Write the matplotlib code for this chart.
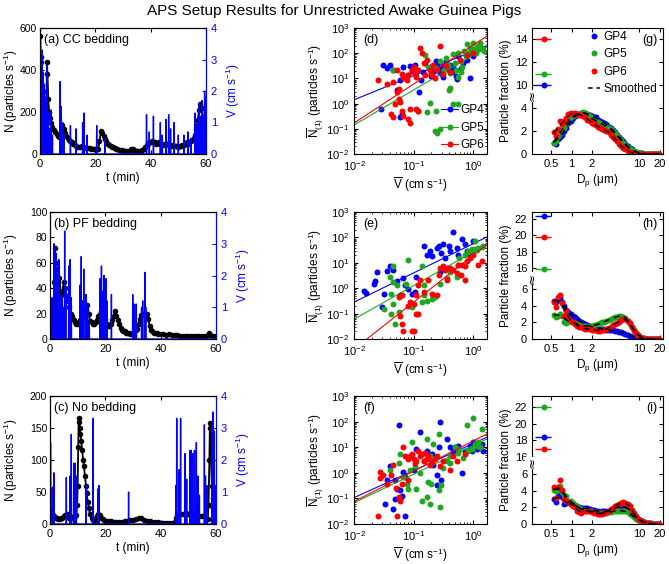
import numpy as np
import matplotlib
matplotlib.use('Agg')
import matplotlib.pyplot as plt
from matplotlib.lines import Line2D
from matplotlib.transforms import blended_transform_factory

plt.rcParams['font.family'] = ['Liberation Sans', 'DejaVu Sans']
plt.rcParams['mathtext.fontset'] = 'custom'
plt.rcParams['mathtext.rm'] = 'Liberation Sans'
plt.rcParams['mathtext.it'] = 'Liberation Sans:italic'
plt.rcParams['mathtext.default'] = 'regular'
plt.rcParams['xtick.direction'] = 'in'
plt.rcParams['ytick.direction'] = 'in'
plt.rcParams['font.size'] = 8.5
plt.rcParams['xtick.labelsize'] = 8
plt.rcParams['ytick.labelsize'] = 8
plt.rcParams['axes.labelsize'] = 8.5

BLUE = '#0000ff'
GREEN = '#1fa81f'
RED = '#ff0000'
COLORS = [BLUE, GREEN, RED]
NAMES = ['GP4', 'GP5', 'GP6']

# ---------------- time series (t in min, N in particles/s) ----------------
a_n = [(0.0,0),(0.05,300),(0.1,560),(0.2,460),(0.3,440),(0.5,380),(0.7,330),(1.0,300),(1.2,260),(1.5,250),
       (1.8,230),(2.0,200),(2.3,180),(2.5,440),(2.7,380),(3.0,260),(3.3,200),(3.6,170),(4.0,150),(4.5,130),
       (5.0,115),(5.5,105),(6.0,95),(6.5,85),(7.0,80),(7.5,100),(8.0,140),(8.5,120),(9.0,100),(9.5,85),
       (10.0,75),(10.5,65),(11,60),(11.5,55),(12,50),(12.5,45),(13,40),(13.5,35),(14,32),(14.5,35),
       (15,38),(15.5,35),(16,32),(16.5,30),(17,30),(17.5,28),(18,28),(18.5,26),(19,25),(19.5,24),
       (20,22),(20.5,22),(21,22),(21.5,60),(22,110),(22.5,100),(23,85),(23.5,70),(24,60),(24.5,50),
       (25,45),(25.5,40),(26,35),(26.5,32),(27,28),(27.5,25),(28,22),(28.5,20),(29,18),(29.5,17),
       (30,16),(30.5,15),(31,15),(31.5,14),(32,14),(32.5,16),(33,22),(33.5,25),(34,20),(34.5,16),
       (35,15),(35.5,14),(36,14),(36.5,15),(37,18),(37.5,25),(38,35),(38.5,45),(39,50),(39.5,55),
       (40,58),(40.5,60),(41,58),(41.5,55),(42,50),(42.5,52),(43,55),(43.5,50),(44,48),(44.5,45),
       (45,48),(45.5,50),(46,48),(46.5,45),(47,42),(47.5,40),(48,42),(48.5,40),(49,38),(49.5,36),
       (50,35),(50.5,38),(51,40),(51.5,42),(52,45),(52.5,50),(53,55),(53.5,50),(54,55),(54.5,60),
       (55,65),(55.5,75),(56,90),(56.5,120),(57,160),(57.5,210),(58,240),(58.5,220),(59,170),(59.3,120),
       (59.6,80),(60,100)]
a_v = [(0.2,2.0),(0.5,1.2),(0.8,3.3),(1.1,2.6),(1.4,2.2),(1.7,1.0),(2.0,1.5),(2.3,2.0),(2.6,2.8),(3.0,1.3),
       (3.4,0.8),(4.0,1.4),(4.5,0.6),(7.3,2.3),(7.7,1.5),(8.2,1.0),(8.6,0.6),(11.0,0.9),(13.0,0.8),(15.4,1.0),
       (15.9,1.3),(17.0,0.6),(20.5,0.9),(23.5,0.5),(38.5,1.25),(39.5,0.7),(41.0,1.2),(43.5,1.0),(44.2,0.6),
       (45.5,1.1),(46.5,1.25),(47.2,0.8),(48.5,1.0),(50.0,0.6),(52.0,0.6),(53.5,0.7),(54.5,0.5),(56.0,1.3),
       (56.6,0.9),(57.0,1.0),(57.5,1.6),(58.0,1.2),(58.5,1.7),(59.0,1.2),(59.5,2.0),(59.9,1.8)]

b_n = [(0.0,5),(0.2,22),(0.4,15),(0.6,25),(0.8,30),(1.0,28),(1.3,30),(1.6,45),(1.8,72),(2.0,55),
       (2.2,60),(2.5,50),(2.8,45),(3.0,42),(3.3,48),(3.6,38),(4.0,35),(4.5,38),(5.0,45),(5.3,40),
       (5.6,35),(6.0,32),(6.5,30),(7.0,25),(7.5,20),(8.0,18),(8.5,15),(9.0,13),(9.5,12),(10,12),
       (10.5,13),(11,15),(11.5,18),(12,20),(12.5,22),(13,24),(13.5,27),(14,20),(14.5,14),(15,13),
       (15.5,12),(16,12),(16.5,13),(17,15),(17.5,18),(18,20),(18.5,22),(19,22),(19.5,20),(20,16),
       (20.5,12),(21,10),(21.5,10),(22,12),(22.5,15),(23,18),(23.5,22),(24,18),(24.5,15),(25,12),
       (25.5,9),(26,7),(26.5,6),(27,6),(27.5,5),(28,5),(28.5,5),(29,4),(29.5,4),(30,5),
       (30.5,6),(31,7),(31.5,8),(32,12),(32.5,16),(33,19),(33.5,20),(34,20),(34.5,19),(35,20),
       (35.5,16),(36,10),(36.5,7),(37,6),(37.5,5),(38,5),(38.5,4.5),(39,4),(40,4),(41,4),
       (42,3.5),(43,4),(44,3.5),(45,3),(46,3),(47,2.5),(48,2.5),(49,2),(50,2.5),(51,2),
       (52,2),(53,2),(54,2),(55,2),(56,2),(57,3),(57.5,5),(58,3),(59,2),(60,2)]
b_v = [(0.3,1.2),(0.7,1.3),(1.0,1.0),(1.4,3.0),(1.8,2.8),(2.3,2.7),(2.6,1.4),(3.0,1.9),(3.2,2.5),(3.6,1.4),
       (4.3,1.3),(4.8,1.0),(5.3,3.4),(5.7,1.6),(6.8,2.3),(7.3,2.5),(7.7,1.3),(10.9,1.7),(11.3,2.6),(11.8,1.2),
       (12.2,2.2),(13.0,1.4),(13.6,1.1),(14.2,0.5),(18.1,1.9),(18.6,2.3),(19.2,1.5),(19.5,2.0),(20.2,1.9),
       (20.6,1.2),(22.2,1.4),(29.9,1.4),(30.5,1.1),(31.2,1.1),(33.1,1.0),(33.5,1.2),(34.3,2.1),(34.6,1.0)]

c_n = [(0.0,10),(0.2,22),(0.4,18),(0.6,15),(1.0,14),(1.5,12),(2,10),(2.5,9),(3,8),(3.5,8),
       (4,9),(4.5,10),(5,12),(5.5,14),(6,15),(6.5,12),(7,10),(7.5,9),(8,10),(8.5,12),
       (9,13),(9.5,14),(9.8,30),(10.0,60),(10.2,120),(10.4,165),(10.6,160),(10.8,150),(11,140),(11.3,130),
       (11.6,115),(12,100),(12.3,90),(12.6,75),(13,60),(13.3,48),(13.6,35),(14,25),(14.5,15),(15,10),
       (15.5,7),(16,5),(16.5,6),(17,12),(17.5,16),(18,14),(18.5,10),(19,8),(19.5,6),(20,5),
       (21,4),(22,4),(23,3),(24,3),(25,3),(26,3),(27,4),(28,5),(29,6),(30,7),
       (31,8),(32,10),(33,9),(34,7),(35,5),(36,4),(37,3),(38,3),(39,3),(40,2),
       (41,2),(42,2),(43,2),(44,2),(45,3),(45.5,10),(46,14),(47,15),(48,16),(49,17),
       (50,16),(51,14),(52,13),(53,12),(54,12),(55,13),(56,14),(56.5,10),(57,8),(57.3,30),
       (57.6,100),(57.8,158),(58,150),(58.2,100),(58.5,60),(58.8,40),(59,25),(59.3,15),(59.6,12),(60,10)]
c_v = [(0.2,2.55),(0.9,1.15),(1.4,1.6),(5.9,1.45),(7.3,1.5),(7.7,2.8),(8.6,1.9),(9.1,1.9),(9.5,1.5),(13.0,1.2),
       (15.6,3.3),(17.4,1.1),(17.7,1.2),(28.4,1.0),(45.5,1.2),(45.8,3.3),(46.7,1.7),(47.2,3.3),(48.8,2.2),
       (49.4,1.4),(50.6,2.3),(51.0,2.3),(51.5,2.2),(52.2,2.3),(52.9,2.55),(53.5,1.5),(54.0,0.9),(55.8,3.1),
       (56.2,1.5),(56.7,1.2),(58.5,3.1),(58.9,3.5),(59.4,2.9),(59.8,1.2)]

# ---------------- scatter: (log10 V, log10 N) ----------------
d_gp4 = [(-1.51,1.53),(-1.40,1.55),(-1.34,1.35),(-1.54,-0.22),(-1.28,0.55),(-1.22,0.95),(-1.17,1.45),(-1.06,1.50),
         (-1.03,1.30),(-0.98,1.55),(-0.95,1.20),(-0.90,0.45),(-0.88,0.95),(-0.84,1.25),(-0.80,1.60),(-0.72,1.45),
         (-0.70,1.10),(-0.66,1.30),(-0.61,1.60),(-0.58,1.40),(-0.55,1.20),(-0.50,1.05),(-0.50,1.50),(-0.45,1.70),
         (-0.40,1.35),(-0.38,1.55),(-0.33,1.45),(-0.28,1.10),(-0.25,1.90),(-0.20,1.40),(-0.17,1.60),(-0.10,1.75),
         (-0.05,2.00),(0.00,1.90),(0.05,2.10),(0.10,2.20),(0.15,2.20),(-1.20,-0.42),(-1.23,-0.55),(-0.27,0.97),
         (-0.05,1.00),(-1.45,1.40),(-1.10,1.15),(-0.62,1.70),(-0.35,1.25)]
d_gp5 = [(-1.34,1.35),(-0.95,1.25),(-0.81,1.93),(-0.75,1.45),(-0.62,1.40),(-0.55,1.70),(-0.45,1.80),(-0.42,1.55),
         (-0.38,1.20),(-0.33,1.95),(-0.30,1.60),(-0.28,1.35),(-0.25,2.00),(-0.20,1.70),(-0.18,1.45),(-0.15,2.10),
         (-0.12,1.90),(-0.10,2.35),(-0.08,2.00),(-0.05,2.20),(0.00,2.40),(0.02,2.15),(0.05,2.00),(0.08,2.30),
         (0.10,2.15),(0.12,2.40),(0.15,2.20),(-0.25,1.05),(-0.41,0.52),(-0.38,0.62),(-0.72,0.01),(-0.92,-0.31),
         (-0.78,-0.35),(-0.62,-0.28),(-0.33,-0.02),(-0.25,0.00),(-0.64,-1.09),(-0.55,-1.02),(-0.60,-1.15),
         (-0.20,1.25),(0.18,2.10),(-0.48,1.35)]
d_gp6 = [(-1.59,0.95),(-1.44,0.79),(-1.34,0.86),(-1.28,1.32),(-1.20,1.19),(-1.17,1.03),(-1.11,0.92),(-1.09,1.12),
         (-1.03,1.32),(-1.00,1.46),(-0.97,1.19),(-0.95,1.06),(-0.92,1.32),(-0.86,2.00),(-0.89,2.20),(-0.83,1.60),
         (-0.78,1.73),(-0.72,1.32),(-0.69,1.12),(-0.67,1.53),(-0.55,2.29),(-0.61,1.32),(-0.50,1.19),(-0.39,1.26),
         (-0.22,1.73),(-0.10,1.93),(0.00,2.00),(-1.25,0.18),(-1.23,0.05),(-1.31,-0.02),(-1.37,-0.42),(-1.34,-0.55),
         (-1.20,-0.28),(-1.17,-0.49),(-1.06,-0.22),(-1.09,-0.62),(-1.06,-0.75),(-0.95,-0.22),(-0.92,-0.28),
         (-1.25,0.59),(-1.28,0.45),(-0.80,1.15),(-0.64,1.00),(-0.45,1.50)]

e_gp4 = [(-1.84,-0.12),(-1.80,-0.18),(-1.65,0.28),(-1.66,0.18),(-1.62,0.65),(-1.40,0.86),(-1.34,0.72),(-1.50,-0.22),
         (-1.53,-0.75),(-1.23,-0.28),(-1.17,0.39),(-1.14,0.12),(-1.09,-0.02),(-1.03,-0.22),(-0.97,-0.15),(-0.95,0.45),
         (-0.78,1.32),(-0.83,1.66),(-0.69,1.26),(-0.61,1.59),(-0.58,1.66),(-0.53,1.39),(-0.47,1.19),(-0.41,1.66),
         (-0.39,1.46),(-0.33,2.20),(-0.27,1.59),(-0.25,1.32),(-0.19,1.93),(-0.13,1.73),(-0.10,1.46),(-0.05,1.32),
         (0.00,1.86),(-0.50,1.73),(-0.55,0.65),(-0.72,1.46),(-1.45,0.68),(-1.28,0.30)]
e_gp5 = [(-1.34,0.86),(-1.40,0.45),(-1.35,0.25),(-1.28,0.12),(-1.37,-0.22),(-1.34,-0.62),(-1.50,-0.82),(-1.37,-1.02),
         (-1.31,-1.42),(-1.25,-0.95),(-1.09,1.12),(-1.12,0.18),(-1.03,-0.75),(-0.86,0.86),(-0.83,0.12),(-0.83,-0.28),
         (-0.78,-0.49),(-0.86,-0.55),(-0.69,-0.42),(-0.64,-0.35),(-0.55,0.18),(-0.44,0.39),(-0.39,0.65),(-0.27,0.45),
         (-0.25,0.92),(-0.23,1.19),(-0.13,1.32),(-0.08,1.46),(-0.02,1.53),(0.03,1.86),(0.03,1.53),(0.09,1.59),
         (0.15,1.62),(0.17,1.66),(0.06,1.49),(-0.02,1.39)]
e_gp6 = [(-1.25,-0.35),(-1.20,-0.28),(-1.23,-1.09),(-1.20,-1.42),(-1.17,-1.69),(-1.03,-1.69),(-1.00,-1.69),(-1.09,-0.69),
         (-1.06,-0.55),(-1.00,-0.62),(-0.95,-1.02),(-0.92,-1.02),(-0.95,-0.28),(-0.92,0.12),(-0.89,0.32),(-0.83,-0.15),
         (-0.75,0.32),(-0.69,-0.22),(-0.61,-0.28),(-0.58,0.52),(-0.55,0.79),(-0.50,0.86),(-0.47,0.72),(-0.44,0.79),
         (-0.39,0.79),(-0.33,0.72),(-0.27,0.59),(-0.25,0.92),(-0.19,0.92),(-0.13,0.86),(-0.13,0.32),(-0.10,1.06),
         (-0.05,1.19),(0.00,1.32),(0.09,0.92),(0.15,1.06),(-0.21,0.52),(-0.44,0.32)]

f_gp4 = [(-1.25,1.86),(-1.17,0.05),(-1.14,-0.15),(-1.31,-0.28),(-1.28,-0.62),(-1.23,-0.69),(-1.23,-1.02),(-1.31,-1.02),
         (-1.34,-1.42),(-1.48,-1.22),(-1.20,-0.89),(-1.14,-1.69),(-0.89,1.59),(-0.69,0.72),(-0.67,0.32),(-0.61,-0.08),
         (-0.55,2.00),(-0.58,0.99),(-0.53,-0.28),(-0.61,-0.49),(-0.44,1.32),(-0.39,0.99),(-0.33,0.86),(-0.31,0.99),
         (-0.25,1.06),(-0.19,-0.02),(-0.13,0.86),(-0.05,1.06),(-0.02,0.86),(0.00,1.19),(0.06,0.92),(0.12,0.99),
         (0.15,1.12),(0.17,0.86),(-1.39,0.25),(-1.45,-0.28),(-0.95,0.92),(-1.00,0.12),(-0.78,0.86)]
f_gp5 = [(-1.39,0.12),(-1.25,0.39),(-1.23,0.72),(-1.17,-0.15),(-1.11,-0.42),(-1.09,-0.62),(-1.06,0.12),(-1.03,1.19),
         (-0.97,0.25),(-0.95,-0.62),(-0.89,-0.02),(-0.83,0.45),(-0.78,1.32),(-0.78,-0.95),(-0.75,-0.35),(-0.72,0.65),
         (-0.72,-1.22),(-0.67,1.12),(-0.58,1.53),(-0.58,-0.69),(-0.55,-1.35),(-0.53,-0.49),(-0.50,0.18),(-0.44,0.45),
         (-0.39,0.65),(-0.39,0.39),(-0.31,0.99),(-0.25,0.79),(-0.23,0.92),(-0.16,0.59),(-0.10,1.86),(-0.08,0.86),
         (-0.02,0.92),(0.00,2.16),(0.03,1.12),(0.06,1.06),(0.09,1.19),(0.12,0.99),(0.15,1.73),(-0.70,-0.42),(-0.86,-1.09)]
f_gp6 = [(-1.59,-1.69),(-1.56,0.05),(-1.51,-0.08),(-1.56,-0.22),(-1.45,-0.42),(-1.37,-0.08),(-1.34,0.32),(-1.28,-1.69),
         (-1.25,-0.95),(-1.23,-1.09),(-1.20,-0.42),(-1.17,0.99),(-1.14,0.65),(-1.09,0.52),(-1.06,0.65),(-1.03,0.72),
         (-1.00,0.52),(-0.97,0.39),(-0.95,0.45),(-0.92,0.86),(-0.89,0.65),(-0.86,0.72),(-0.83,0.45),(-0.81,0.79),
         (-0.78,0.52),(-0.75,0.65),(-0.72,0.32),(-0.69,0.45),(-0.64,0.52),(-0.61,0.65),(-0.55,0.25),(-0.50,0.45),
         (-0.39,0.12),(-0.33,0.65),(-0.27,0.45),(-0.13,0.72),(-1.30,-0.60),(-1.10,-0.30)]

# fitted power-law lines: endpoints (log10 V, log10 N)
fit_x = [-2.0, 0.235]
d_fits = [[0.15, 2.30], [-0.85, 2.25], [-0.77, 2.68]]
e_fits = [[-0.55, 2.02], [-1.22, 1.73], [-2.40, 1.73]]
f_fits = [[-0.97, 1.39], [-1.17, 1.32], [-1.12, 1.52]]

# ---------------- size distributions ----------------
dp = [0.542, 0.583, 0.626, 0.673, 0.723, 0.777, 0.835, 0.898, 0.965, 1.037,
      1.114, 1.197, 1.286, 1.382, 1.486, 1.596, 1.715, 1.843, 1.981, 2.129,
      2.288, 2.458, 2.642, 2.839, 3.051, 3.278, 3.523, 3.786, 4.068, 4.371,
      4.698, 5.048, 5.425, 5.829, 6.264, 6.732, 7.234, 7.774, 8.354, 8.977,
      9.647, 10.37, 11.14, 11.97, 12.86, 13.82, 14.86, 15.96, 17.15, 18.43, 19.81]

g_pts = [
    [0.95, 0.90, 1.30, 1.50, 1.70, 2.00, 2.30, 2.70, 2.90, 3.10, 3.30, 3.40, 3.50, 3.60, 3.60, 3.60, 3.50,
     3.40, 3.30, 3.20, 3.20, 3.00, 2.90, 2.80, 2.70, 2.60, 2.40, 2.30, 2.10, 1.90, 1.70, 1.50, 1.30, 1.10,
     0.90, 0.70, 0.55, 0.40, 0.28, 0.18, 0.12, 0.08, 0.05, 0.03, 0.02, 0.01, 0.01, 0.00, 0.00, 0.00, 0.00],
    [1.00, 1.10, 1.60, 1.80, 2.20, 2.30, 2.60, 3.00, 3.20, 3.30, 3.40, 3.50, 3.50, 3.60, 3.70, 3.60, 3.50,
     3.30, 3.10, 3.00, 2.90, 2.80, 2.70, 2.60, 2.50, 2.40, 2.30, 2.20, 2.00, 1.80, 1.60, 1.40, 1.20, 1.00,
     0.80, 0.60, 0.45, 0.32, 0.22, 0.14, 0.09, 0.06, 0.04, 0.02, 0.01, 0.00, 0.00, 0.00, 0.00, 0.00, 0.00],
    [1.90, 1.60, 2.20, 2.90, 2.60, 2.90, 3.10, 3.50, 3.60, 3.50, 3.60, 3.50, 3.40, 3.40, 3.30, 3.20, 3.00,
     2.90, 2.70, 2.60, 2.50, 2.40, 2.30, 2.20, 2.10, 2.00, 1.90, 1.70, 1.50, 1.30, 1.10, 0.90, 0.70, 0.55,
     0.40, 0.28, 0.18, 0.10, 0.06, 0.03, 0.02, 0.01, 0.00, 0.00, 0.00, 0.00, 0.00, 0.00, 0.00, 0.00, 0.00]]
h_pts = [
    [4.60, 4.40, 4.80, 4.90, 4.50, 4.00, 3.50, 3.20, 3.00, 2.80, 2.60, 2.40, 2.20, 2.00, 1.90, 1.80, 1.70,
     1.60, 1.50, 1.45, 1.40, 1.30, 1.25, 1.20, 1.15, 1.10, 1.10, 1.05, 1.05, 1.00, 0.95, 0.90, 0.80, 0.70,
     0.60, 0.50, 0.40, 0.30, 0.22, 0.15, 0.10, 0.07, 0.05, 0.03, 0.02, 0.01, 0.00, 0.00, 0.00, 0.00, 0.00],
    [2.90, 2.60, 2.80, 3.00, 2.80, 2.00, 1.90, 2.30, 2.10, 2.00, 1.90, 1.80, 1.70, 1.60, 1.60, 1.60, 1.55,
     1.60, 1.60, 1.65, 1.70, 1.80, 1.90, 2.00, 2.10, 2.20, 2.30, 2.40, 2.50, 2.60, 2.70, 2.75, 2.80, 2.70,
     2.50, 2.20, 1.80, 1.40, 1.00, 0.70, 0.45, 0.30, 0.18, 0.10, 0.06, 0.03, 0.02, 0.01, 0.00, 0.00, 0.00],
    [4.50, 3.80, 5.10, 5.30, 4.30, 2.80, 3.40, 2.50, 2.20, 2.00, 1.80, 1.60, 1.50, 1.40, 1.30, 1.20, 1.20,
     1.15, 1.10, 1.10, 1.05, 1.00, 1.00, 1.05, 1.10, 1.20, 1.35, 1.50, 1.65, 1.80, 1.95, 2.10, 2.25, 2.35,
     2.35, 2.20, 1.90, 1.50, 1.10, 0.75, 0.50, 0.30, 0.18, 0.10, 0.06, 0.03, 0.02, 0.01, 0.00, 0.00, 0.00]]
i_pts = [
    [3.00, 2.60, 3.30, 3.50, 3.20, 2.40, 2.50, 2.60, 2.40, 2.30, 2.20, 2.10, 2.00, 1.90, 1.90, 1.95, 1.90,
     1.80, 1.70, 1.65, 1.60, 1.50, 1.45, 1.50, 1.50, 1.55, 1.60, 1.70, 1.80, 1.90, 2.00, 2.05, 2.10, 2.10,
     2.00, 1.90, 1.70, 1.40, 1.10, 0.85, 0.65, 0.50, 0.35, 0.25, 0.15, 0.10, 0.06, 0.03, 0.02, 0.01, 0.00],
    [4.10, 4.00, 4.20, 4.60, 3.80, 3.50, 3.30, 2.80, 2.70, 2.50, 2.30, 2.10, 1.95, 1.80, 1.70, 1.65, 1.60,
     1.55, 1.50, 1.45, 1.40, 1.35, 1.30, 1.30, 1.30, 1.35, 1.40, 1.45, 1.50, 1.55, 1.60, 1.60, 1.60, 1.55,
     1.50, 1.40, 1.25, 1.05, 0.85, 0.65, 0.50, 0.35, 0.25, 0.15, 0.10, 0.06, 0.03, 0.02, 0.00, 0.00, 0.00],
    [4.40, 3.10, 4.40, 5.30, 4.10, 3.00, 2.80, 2.60, 2.40, 2.20, 2.00, 1.60, 1.40, 1.35, 1.50, 1.60, 1.55,
     1.50, 1.40, 1.35, 1.30, 1.20, 1.20, 1.25, 1.30, 1.40, 1.60, 1.80, 1.95, 2.10, 2.30, 2.40, 2.50, 2.60,
     2.55, 2.40, 2.10, 1.70, 1.30, 0.95, 0.65, 0.45, 0.30, 0.18, 0.10, 0.06, 0.03, 0.02, 0.01, 0.00, 0.00]]

# smoothed curves on every second channel
dp_smooth = dp[::2]
g_smooth = [
    [1.0, 1.35, 1.75, 2.3, 2.85, 3.25, 3.5, 3.6, 3.5, 3.3, 3.15, 2.9, 2.7, 2.4, 2.1, 1.7, 1.3, 0.9, 0.55, 0.28, 0.12, 0.05, 0.02, 0.01, 0, 0],
    [1.05, 1.55, 2.1, 2.6, 3.1, 3.4, 3.5, 3.6, 3.5, 3.1, 2.9, 2.7, 2.5, 2.3, 2.0, 1.6, 1.2, 0.8, 0.45, 0.22, 0.09, 0.04, 0.01, 0, 0, 0],
    [1.8, 2.3, 2.7, 3.1, 3.5, 3.55, 3.45, 3.3, 3.05, 2.75, 2.5, 2.3, 2.1, 1.9, 1.5, 1.1, 0.7, 0.4, 0.18, 0.06, 0.02, 0.01, 0, 0, 0, 0]]
h_smooth = [
    [4.5, 4.6, 4.3, 3.6, 3.0, 2.6, 2.2, 1.9, 1.7, 1.5, 1.4, 1.25, 1.15, 1.1, 1.05, 0.95, 0.8, 0.6, 0.4, 0.22, 0.1, 0.05, 0.02, 0, 0, 0],
    [2.9, 2.9, 2.7, 2.3, 2.05, 1.9, 1.7, 1.6, 1.55, 1.6, 1.7, 1.9, 2.1, 2.3, 2.5, 2.7, 2.8, 2.55, 1.85, 1.0, 0.45, 0.18, 0.06, 0.02, 0, 0],
    [4.6, 4.6, 4.0, 3.1, 2.3, 1.85, 1.5, 1.3, 1.2, 1.1, 1.05, 1.0, 1.1, 1.35, 1.65, 1.95, 2.25, 2.35, 1.95, 1.1, 0.5, 0.18, 0.06, 0.02, 0, 0]]
i_smooth = [
    [3.0, 3.2, 3.0, 2.6, 2.4, 2.2, 2.0, 1.9, 1.85, 1.7, 1.6, 1.5, 1.5, 1.6, 1.8, 2.0, 2.1, 2.0, 1.7, 1.1, 0.65, 0.35, 0.15, 0.06, 0.02, 0],
    [4.1, 4.2, 3.9, 3.3, 2.7, 2.3, 1.95, 1.7, 1.6, 1.5, 1.4, 1.3, 1.3, 1.4, 1.5, 1.6, 1.6, 1.5, 1.25, 0.85, 0.5, 0.25, 0.1, 0.03, 0.01, 0],
    [4.2, 4.3, 4.0, 3.0, 2.4, 2.0, 1.55, 1.5, 1.55, 1.4, 1.3, 1.2, 1.3, 1.6, 1.95, 2.3, 2.5, 2.55, 2.1, 1.3, 0.65, 0.3, 0.1, 0.03, 0.01, 0]]

# fraction below 0.5 um (plotted above the axis break)
g_low = [10.0, 11.0, 14.0]
h_low = [22.3, 15.9, 19.8]
i_low = [18.4, 22.0, 17.0]
low_dp, low_err = 0.385, 0.1

# ---------------- figure ----------------
W, H = 669, 564
fig = plt.figure(figsize=(W / 100, H / 100), dpi=100)


def px_axes(x0, y0, x1, y1):
    return fig.add_axes([x0 / W, 1 - y1 / H, (x1 - x0) / W, (y1 - y0) / H])


fig.text(0.5, 1 - 11 / H, 'APS Setup Results for Unrestricted Awake Guinea Pigs',
         ha='center', va='center', fontsize=11)


def time_panel(ax, x0, npts, vpts, nmax, nstep, label):
    t, n = zip(*npts)
    ax.plot(t, n, '-o', color='k', lw=1.3, ms=4.0, mew=0)
    ax.set_xlim(0, 60)
    ax.set_ylim(0, nmax)
    ax.set_xticks([0, 20, 40, 60])
    ax.set_yticks(np.arange(0, nmax + 1, nstep))
    ax.set_xlabel('t (min)', labelpad=2)
    ax.set_ylabel('N (particles s$^{-1}$)')
    ax.yaxis.set_label_coords((20 - x0) / 166, 0.5)
    ax.tick_params(top=True, length=3)
    ax.tick_params(axis='y', labelsize=7.5, pad=2)
    ax.text(0.025, 0.955, label, transform=ax.transAxes, ha='left', va='top', fontsize=9)
    ax2 = ax.twinx()
    xs, ys = [0], [0]
    for tv, vv in sorted(vpts):
        xs += [tv - 0.08, tv, tv + 0.08]
        ys += [0, vv, 0]
    xs.append(60)
    ys.append(0)
    ax2.plot(xs, ys, color=BLUE, lw=1.0)
    ax2.set_ylim(0, 4)
    ax2.set_yticks([0, 1, 2, 3, 4])
    ax2.tick_params(axis='y', colors=BLUE, length=3)
    ax2.spines['right'].set_color(BLUE)
    ax2.set_ylabel('V (cm s$^{-1}$)', color=BLUE, labelpad=5)


time_panel(px_axes(40, 28, 206, 154), 40, a_n, a_v, 600, 200, '(a) CC bedding')
time_panel(px_axes(50, 212, 216, 339), 50, b_n, b_v, 100, 20, '(b) PF bedding')
time_panel(px_axes(50, 396, 216, 524), 50, c_n, c_v, 200, 50, '(c) No bedding')


def scatter_panel(ax, series, fits, label, legend=False):
    for pts, fy, c in zip(series, fits, COLORS):
        lx, ly = zip(*pts)
        ax.plot(10 ** np.array(lx), 10 ** np.array(ly), 'o', color=c, ms=4.3, mew=0, ls='none')
        ax.plot(10 ** np.array(fit_x), 10 ** np.array(fy), color=c, lw=0.8)
    ax.set_xscale('log')
    ax.set_yscale('log')
    ax.set_xlim(0.01, 10 ** 0.235)
    ax.set_ylim(1e-2, 1e3)
    ax.set_yticks([1e-2, 1e-1, 1e0, 1e1, 1e2, 1e3])
    ax.set_xticks([1e-2, 1e-1, 1e0])
    ax.tick_params(which='both', top=True, right=True)
    ax.tick_params(which='major', length=3)
    ax.tick_params(which='minor', length=1.5)
    ax.set_xlabel(r'$\overline{V}$ (cm s$^{-1}$)', labelpad=2)
    ax.set_ylabel(r'$\overline{N}_{(1)}$ (particles s$^{-1}$)', labelpad=1)
    ax.text(0.07, 0.955, label, transform=ax.transAxes, ha='left', va='top', fontsize=9)
    if legend:
        handles = [Line2D([0], [0], color=c, lw=0.8, marker='o', ms=4.3, mew=0) for c in COLORS]
        ax.legend(handles, NAMES, loc='lower right', frameon=False, fontsize=8.5,
                  handlelength=1.4, handletextpad=0.2, labelspacing=0.45,
                  borderpad=0.1, borderaxespad=0.15)


scatter_panel(px_axes(354, 28, 487, 154), [d_gp4, d_gp5, d_gp6], d_fits, '(d)', legend=True)
scatter_panel(px_axes(354, 212, 487, 339), [e_gp4, e_gp5, e_gp6], e_fits, '(e)')
scatter_panel(px_axes(354, 396, 487, 524), [f_gp4, f_gp5, f_gp6], f_fits, '(f)')


def psd_panel(ax, pts, smooth, low, offset, top, ticks, labels, brk, label, legend=False):
    for vals, lo, c in zip(pts, low, COLORS):
        ax.plot(dp, vals, 'o', color=c, ms=4.3, mew=0, ls='none')
        ax.errorbar([low_dp], [lo - offset], xerr=[[low_err], [low_err + 0.01]], fmt='o', color=c,
                    ms=4.3, mew=0, elinewidth=1, capsize=2.5, capthick=1)
    for sm in smooth:
        ax.plot(dp_smooth, sm, '--', color='k', lw=1.1, dashes=(4, 3))
    ax.set_xscale('log')
    ax.set_xlim(0.26, 22.5)
    ax.set_ylim(0, top)
    ax.set_xticks([0.5, 1, 2, 10, 20])
    ax.set_xticklabels(['0.5', '1', '2', '10', '20'])
    ax.xaxis.set_minor_locator(plt.NullLocator())
    ax.set_yticks(ticks)
    ax.set_yticklabels(labels)
    ax.tick_params(top=True, right=True, length=3)
    ax.set_xlabel(r'D$_\mathrm{p}$ ($\mu$m)', labelpad=2)
    ax.set_ylabel('Particle fraction (%)', labelpad=2)
    ax.text(0.955, 0.955, label, transform=ax.transAxes, ha='right', va='top', fontsize=9)
    tr = blended_transform_factory(ax.transAxes, ax.transData)
    ax.text(0.0, brk, '\u2248', transform=tr, rotation=90, ha='center', va='center',
            fontsize=9.5, family=['DejaVu Sans'],
            bbox=dict(facecolor='white', edgecolor='none', pad=0.3))
    if legend:
        handles = [Line2D([0], [0], color=c, marker='o', ms=4.3, mew=0, ls='none') for c in COLORS]
        handles.append(Line2D([0], [0], color='k', ls='--', lw=1.1, dashes=(3, 2.5)))
        ax.legend(handles, NAMES + ['Smoothed'], loc='upper left', frameon=False, fontsize=8.5,
                  handlelength=1.0, handletextpad=0.3, labelspacing=0.45,
                  borderpad=0.0, borderaxespad=0.0, bbox_to_anchor=(0.43, 0.975))


psd_panel(px_axes(532, 28, 663, 154), g_pts, g_smooth, g_low, 4.0, 11.0,
          [0, 2, 4, 6, 8, 10], ['0', '2', '4', '10', '12', '14'], 5.1, '(g)', legend=True)
psd_panel(px_axes(532, 212, 663, 339), h_pts, h_smooth, h_low, 7.5, 15.3,
          [0, 2, 4, 6, 8.5, 10.5, 12.5, 14.5], ['0', '2', '4', '6', '16', '18', '20', '22'], 7.3, '(h)')
psd_panel(px_axes(532, 396, 663, 524), i_pts, i_smooth, i_low, 8.0, 15.3,
          [0, 2, 4, 6, 8, 10, 12, 14], ['0', '2', '4', '6', '16', '18', '20', '22'], 7.3, '(i)')

fig.savefig('out.png', dpi=100)
